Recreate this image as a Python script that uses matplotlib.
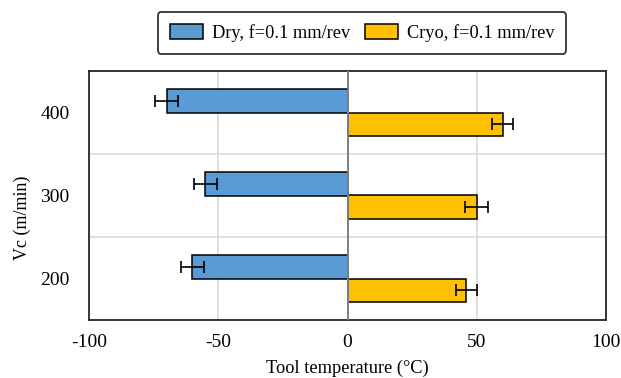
import matplotlib
matplotlib.use("Agg")
import matplotlib.pyplot as plt
import numpy as np

categories = ["200", "300", "400"]
dry_values = [-60, -55, -70]
dry_err = [4.4, 4.5, 4.5]
cryo_values = [46, 50, 60]
cryo_err = [4.1, 4.4, 4.2]
x_ticks = [-100, -50, 0, 50, 100]
dry_label = "Dry, f=0.1 mm/rev"
cryo_label = "Cryo, f=0.1 mm/rev"

plt.rcParams['font.family'] = ['Liberation Serif', 'DejaVu Serif']

L, R, T, B = 89, 606, 71, 320
fig = plt.figure(figsize=(6.21, 3.78), dpi=100)
ax = fig.add_axes([L/621, 1-B/378, (R-L)/621, (B-T)/378])

y = np.arange(len(categories))
h = 0.28
ax.barh(y + h/2, dry_values, height=h, color="#5B9BD5", edgecolor="black", linewidth=1.1,
        label=dry_label, zorder=3)
ax.barh(y - h/2, cryo_values, height=h, color="#FFC000", edgecolor="black", linewidth=1.1,
        label=cryo_label, zorder=3)
ax.errorbar(dry_values, y + h/2, xerr=dry_err, fmt="none", ecolor="black", elinewidth=1.2,
            capsize=4, capthick=1.2, zorder=4)
ax.errorbar(cryo_values, y - h/2, xerr=cryo_err, fmt="none", ecolor="black", elinewidth=1.2,
            capsize=4, capthick=1.2, zorder=4)

ax.set_xlim(-100, 100)
ax.set_ylim(-0.5, len(categories) - 0.5)
ax.set_xticks(x_ticks)
ax.set_xticklabels([str(v) for v in x_ticks])
ax.set_yticks(y)
ax.set_yticklabels(categories)
ax.set_yticks(np.arange(len(categories) + 1) - 0.5, minor=True)
ax.grid(True, axis="x", which="major", color="#d9d9d9", linewidth=1.2, zorder=0)
ax.grid(True, axis="y", which="minor", color="#d9d9d9", linewidth=1.2, zorder=0)
ax.axvline(0, color="#7f7f7f", linewidth=1.4, zorder=5)
ax.tick_params(axis="both", which="both", length=0, labelsize=14, colors="black")
ax.tick_params(axis="x", pad=10)
ax.tick_params(axis="y", pad=14)
for s in ax.spines.values():
    s.set_color("#262626")
    s.set_linewidth(1.3)

ax.set_xlabel("Tool temperature (°C)", fontsize=13.2)
ax.xaxis.set_label_coords(0.5, -(368-B)/(B-T), transform=ax.transAxes)
ax.set_ylabel("Vc (m/min)", fontsize=13)
ax.yaxis.set_label_coords(-(L-22)/(R-L), (B-218)/(B-T), transform=ax.transAxes)
ax.xaxis.label.set_va("center")
ax.yaxis.label.set_va("center")

leg = fig.legend(loc="center", bbox_to_anchor=(362/621, 1-33/378), ncol=2, fontsize=13.2,
                 frameon=True, fancybox=True, edgecolor="black", handlelength=1.8,
                 handleheight=0.85, columnspacing=0.8, handletextpad=0.5, borderpad=0.65)
leg.get_frame().set_linewidth(1.3)

fig.savefig("out.png", dpi=100)
